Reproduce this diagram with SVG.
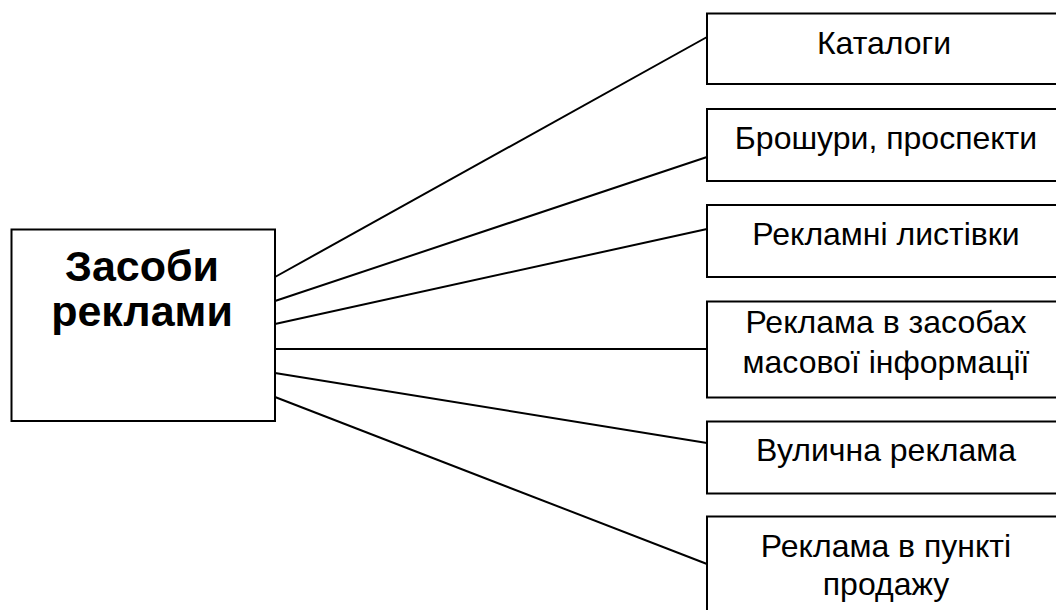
<svg xmlns="http://www.w3.org/2000/svg" width="1056" height="610" viewBox="0 0 1056 610">
<style>
rect{fill:#fff;stroke:#000;stroke-width:2}
line{stroke:#000;stroke-width:2}
text{font-family:"Liberation Sans",Arial,sans-serif;fill:#000;text-anchor:middle}
.t{font-size:32px}
.m{font-size:43px;font-weight:bold}
</style>
<rect width="1056" height="610" style="stroke:none"/>
<g id="connectors">
<line x1="275" y1="277" x2="707" y2="37"/>
<line x1="275" y1="301" x2="707" y2="157"/>
<line x1="275" y1="324" x2="707" y2="229"/>
<line x1="275" y1="349" x2="707" y2="349"/>
<line x1="275" y1="373" x2="707" y2="443"/>
<line x1="275" y1="397" x2="707" y2="564"/>
</g>
<g id="main"><rect x="11.5" y="229.5" width="263.5" height="191.5"/>
<text class="m" x="142" y="281">Засоби</text><text class="m" x="142" y="326">реклами</text></g>
<g id="n1"><rect x="707" y="13.5" width="360" height="70.5"/><text class="t" x="884" y="54">Каталоги</text></g>
<g id="n2"><rect x="707" y="109" width="360" height="72"/><text class="t" x="886" y="149">Брошури, проспекти</text></g>
<g id="n3"><rect x="707" y="205" width="360" height="72"/><text class="t" x="886" y="245">Рекламні листівки</text></g>
<g id="n4"><rect x="707" y="301.5" width="360" height="96"/><text class="t" x="886" y="333">Реклама в засобах</text><text class="t" x="886" y="373">масової інформації</text></g>
<g id="n5"><rect x="707" y="421.5" width="360" height="72"/><text class="t" x="886" y="461">Вулична реклама</text></g>
<g id="n6"><rect x="707" y="516.5" width="360" height="110"/><text class="t" x="886" y="557">Реклама в пункті</text><text class="t" x="886" y="595">продажу</text></g>
</svg>
